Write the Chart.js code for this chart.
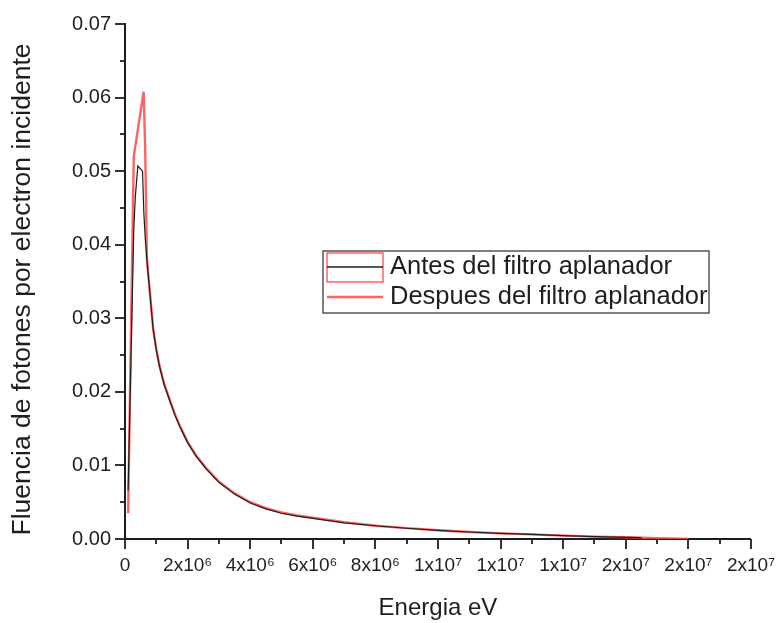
<!DOCTYPE html>
<html>
<head>
<meta charset="utf-8">
<script src="https://cdn.jsdelivr.net/npm/chart.js@4.4.1/dist/chart.umd.min.js"></script>
<style>
  html, body { margin: 0; padding: 0; background: #fff; }
  #wrap { width: 780px; height: 623px; }
</style>
</head>
<body>
<div id="wrap"><canvas id="c" width="780" height="623"></canvas></div>
<script>
// Photon fluence per incident electron vs. energy (eV)
const energiaAntes = [
  1.0e5, 2.8e5, 3.3e5, 4.1e5, 5.6e5, 6.0e5, 6.45e5, 7.0e5, 7.4e5, 8.0e5, 9.0e5,
  1.0e6, 1.1e6, 1.25e6, 1.43e6, 1.6e6, 1.75e6, 2.0e6, 2.28e6, 2.6e6, 3.0e6,
  3.5e6, 4.0e6, 4.5e6, 5.0e6, 5.5e6, 6.0e6, 7.0e6, 8.0e6, 9.0e6, 1.0e7,
  1.1e7, 1.2e7, 1.3e7, 1.4e7, 1.5e7, 1.6e7, 1.65e7
];
const fluenciaAntes = [
  0.0066, 0.0420, 0.0465, 0.0507, 0.0500, 0.0445, 0.0410, 0.0380, 0.0360, 0.0332, 0.0285,
  0.0257, 0.0235, 0.0210, 0.0188, 0.0168, 0.0153, 0.0131, 0.0112, 0.0095, 0.0077,
  0.0061, 0.0049, 0.0041, 0.0035, 0.0031, 0.0028, 0.0022, 0.0018, 0.00146, 0.00117,
  0.00095, 0.00076, 0.00062, 0.00045, 0.00031, 0.00023, 0.0002
];
const energiaDespues = [
  1.0e5, 2.8e5, 5.95e5, 6.45e5, 7.0e5, 7.4e5, 8.0e5, 9.0e5,
  1.0e6, 1.1e6, 1.25e6, 1.43e6, 1.6e6, 1.75e6, 2.0e6, 2.28e6, 2.6e6, 3.0e6,
  3.5e6, 4.0e6, 4.5e6, 5.0e6, 5.5e6, 6.0e6, 7.0e6, 8.0e6, 9.0e6, 1.0e7,
  1.1e7, 1.2e7, 1.3e7, 1.4e7, 1.5e7, 1.6e7, 1.7e7, 1.8e7
];
const fluenciaDespues = [
  0.0035, 0.0520, 0.0608, 0.0530, 0.0380, 0.0361, 0.0333, 0.0286,
  0.0258, 0.0236, 0.0211, 0.0189, 0.0169, 0.0154, 0.0132, 0.0113, 0.0096, 0.0078,
  0.0062, 0.0050, 0.0042, 0.0036, 0.0032, 0.0029, 0.0023, 0.0018, 0.00148, 0.00118,
  0.00096, 0.00077, 0.00063, 0.00046, 0.00032, 0.00024, 0.00012, 0.00002
];
const xTickLabels = ['0', '2x10⁶', '4x10⁶', '6x10⁶', '8x10⁶', '1x10⁷', '1x10⁷', '1x10⁷', '2x10⁷', '2x10⁷', '2x10⁷'];
const seriesLabels = ['Antes del filtro aplanador', 'Despues del filtro aplanador'];
const xTitle = 'Energia eV';
const yTitle = 'Fluencia de fotones por electron incidente';

const X_MAX = 2e7, X_STEP = 2e6;
const Y_MAX = 0.07, Y_STEP = 0.01;
const FONT = '"Liberation Sans", Arial, sans-serif';
const INK = '#1e1e1e';
const RED = 'rgba(255, 70, 70, 0.85)';

const toPoints = (xs, ys) => xs.map((x, i) => ({ x, y: ys[i] }));

// Outward major/minor tick marks, the vertical axis title and the boxed legend
const decorations = {
  id: 'decorations',
  afterDraw(chart) {
    const { ctx, chartArea: ca } = chart;
    const xs = chart.scales.x, ys = chart.scales.y;
    ctx.save();
    ctx.strokeStyle = INK;
    ctx.lineWidth = 1.8;
    const nx = Math.round(X_MAX / (X_STEP / 2));
    for (let i = 0; i <= nx; i++) {
      const px = Math.round(xs.getPixelForValue(i * X_STEP / 2));
      const len = i % 2 === 0 ? 10 : 5;
      ctx.beginPath(); ctx.moveTo(px, ca.bottom); ctx.lineTo(px, ca.bottom + len); ctx.stroke();
    }
    const ny = Math.round(Y_MAX / (Y_STEP / 2));
    for (let i = 0; i <= ny; i++) {
      const py = Math.round(ys.getPixelForValue(i * Y_STEP / 2));
      const len = i % 2 === 0 ? 10 : 5;
      ctx.beginPath(); ctx.moveTo(ca.left, py); ctx.lineTo(ca.left - len, py); ctx.stroke();
    }

    // vertical axis title
    ctx.save();
    ctx.translate(23, (ca.top + ca.bottom) / 2 + 8);
    ctx.rotate(-Math.PI / 2);
    ctx.fillStyle = INK;
    ctx.font = '26.5px ' + FONT;
    ctx.textAlign = 'center';
    ctx.textBaseline = 'middle';
    ctx.fillText(yTitle, 0, 0);
    ctx.restore();

    // legend
    const bx = 323, by = 251, bw = 386, bh = 62;
    ctx.fillStyle = '#fff';
    ctx.fillRect(bx, by, bw, bh);
    ctx.strokeStyle = '#555';
    ctx.lineWidth = 1.5;
    ctx.strokeRect(bx, by, bw, bh);
    const row1 = by + 16, row2 = by + 46;
    ctx.strokeStyle = 'rgba(255, 40, 40, 0.9)';
    ctx.lineWidth = 1.2;
    ctx.strokeRect(bx + 4, by + 2, 56, 29);
    ctx.strokeStyle = INK; ctx.lineWidth = 1.3;
    ctx.beginPath(); ctx.moveTo(bx + 4, row1); ctx.lineTo(bx + 60, row1); ctx.stroke();
    ctx.strokeStyle = RED; ctx.lineWidth = 2.5;
    ctx.beginPath(); ctx.moveTo(bx + 4, row2); ctx.lineTo(bx + 60, row2); ctx.stroke();
    ctx.fillStyle = INK;
    ctx.font = '25.5px ' + FONT;
    ctx.textBaseline = 'middle';
    ctx.textAlign = 'left';
    ctx.fillText(chart.data.datasets[0].label, bx + 67, row1);
    ctx.fillText(chart.data.datasets[1].label, bx + 67, row2);
    ctx.restore();
  }
};

new Chart(document.getElementById('c'), {
  type: 'line',
  data: {
    datasets: [
      {
        label: seriesLabels[0],
        data: toPoints(energiaAntes, fluenciaAntes),
        borderColor: INK,
        borderWidth: 1.2,
        pointRadius: 0,
        tension: 0,
        order: 0
      },
      {
        label: seriesLabels[1],
        data: toPoints(energiaDespues, fluenciaDespues),
        borderColor: RED,
        borderWidth: 2.4,
        pointRadius: 0,
        tension: 0,
        order: 1
      }
    ]
  },
  options: {
    responsive: false,
    animation: false,
    devicePixelRatio: 1,
    layout: { padding: { left: 0, right: 26, top: 24, bottom: 0 } },
    plugins: { legend: { display: false }, tooltip: { enabled: false } },
    scales: {
      x: {
        type: 'linear',
        min: 0,
        max: X_MAX,
        afterFit(scale) { scale.height = 84; },
        grid: { display: false, drawTicks: true, tickLength: 10 },
        border: { display: true, color: INK, width: 2 },
        ticks: {
          stepSize: X_STEP,
          autoSkip: false,
          maxRotation: 0,
          padding: 5,
          color: INK,
          font: { family: FONT, size: 19 },
          callback: (v, i) => xTickLabels[i]
        },
        title: {
          display: true,
          text: xTitle,
          color: INK,
          font: { family: FONT, size: 24 },
          padding: { top: 2, bottom: 0 }
        }
      },
      y: {
        type: 'linear',
        min: 0,
        max: Y_MAX,
        afterFit(scale) { scale.width = 125; },
        grid: { display: false, drawTicks: true, tickLength: 10 },
        border: { display: true, color: INK, width: 2 },
        ticks: {
          stepSize: Y_STEP,
          padding: 4,
          color: INK,
          font: { family: FONT, size: 20 },
          callback: v => v.toFixed(2)
        },
        title: { display: false }
      }
    }
  },
  plugins: [decorations]
});
</script>
</body>
</html>
